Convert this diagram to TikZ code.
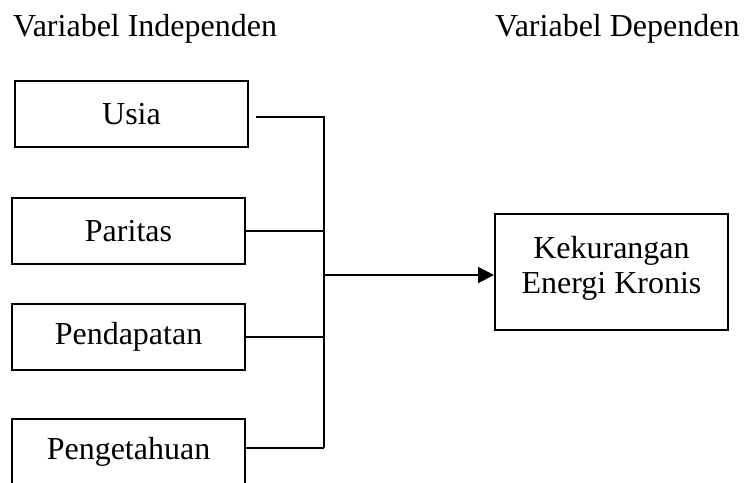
\documentclass[tikz,border=0pt]{standalone}
\usepackage{fontspec}
\setmainfont{Liberation Serif}
\usetikzlibrary{arrows.meta,calc}
\begin{document}
\begin{tikzpicture}[x=1pt,y=-1pt,
  varbox/.style={draw,line width=2pt,minimum width=233pt,minimum height=66pt,inner sep=0pt,
    font=\fontsize{32}{36}\selectfont},
  header/.style={anchor=base west,inner sep=0pt,font=\fontsize{32}{36}\selectfont},
  conn/.style={line width=2pt}]
\useasboundingbox (0,0) rectangle (744,482);
\node[header] (hi) at (13,36) {Variabel Independen};
\node[header] (hd) at (495,36) {Variabel Dependen};
\node[varbox] (usia) at (131.5,114) {Usia};
\node[varbox] (paritas) at (128.5,231) {Paritas};
\node[varbox] (pendapatan) at (128.5,337) {Pendapatan};
\node[varbox] (pengetahuan) at (128.5,452) {Pengetahuan};
\node[varbox,minimum height=116pt,
  label={[name=kektext,inner sep=0pt,align=center,font=\fontsize{32}{35}\selectfont,yshift=4pt]center:{Kekurangan\\Energi Kronis}}]
  (kek) at (611.5,272) {};
\coordinate (top) at (324,117);
\coordinate (bot) at (324,448);
\coordinate (mid) at (324,275);
\draw[conn] ([xshift=7pt,yshift=-3pt]usia.east) -- (top) -- (bot);
\draw[conn] (paritas.east) -- (paritas.east -| top);
\draw[conn] (pendapatan.east) -- (pendapatan.east -| top);
\draw[conn] (bot -| pengetahuan.east) -- (bot);
\draw[conn,-{Triangle[length=16pt,width=16pt]}] (mid) -- (mid -| kek.west);
\end{tikzpicture}
\end{document}
